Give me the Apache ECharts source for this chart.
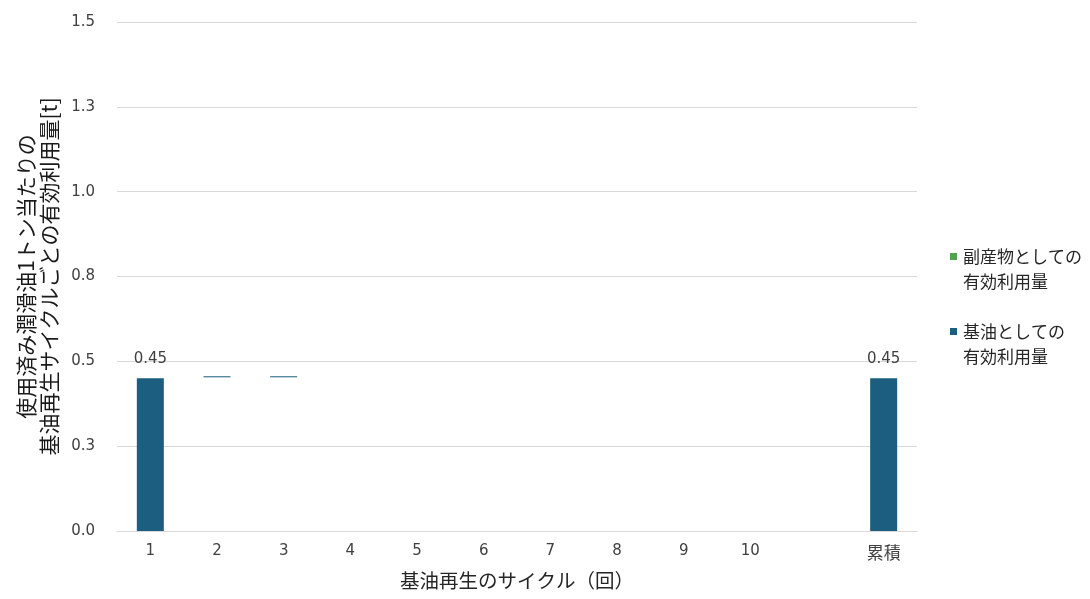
<!DOCTYPE html>
<html lang="ja">
<head>
<meta charset="utf-8">
<title>基油再生サイクルごとの有効利用量</title>
<script src="https://cdn.jsdelivr.net/npm/echarts@6/dist/echarts.min.js"></script>
<style>
  html, body { margin: 0; padding: 0; background: #ffffff; }
  #chart { width: 1090px; height: 599px; }
</style>
</head>
<body>
<div id="chart"></div>
<script>
// Regeneration cycles (the blank slot separates the cumulative bar)
const cycles = ['1', '2', '3', '4', '5', '6', '7', '8', '9', '10', '', '累積'];
// Invisible offset so small increments sit on top of the running total
const offset = [0, 0.453, 0.453, 0, 0, 0, 0, 0, 0, 0, null, 0];
// Effective use as base oil [t per t of used lubricant]
const baseOil = [0.45, 0.003, 0.003, 0, 0, 0, 0, 0, 0, 0, null, 0.45];
// Effective use as by-product [t per t of used lubricant]
const byProduct = [0, 0, 0, 0, 0, 0, 0, 0, 0, 0, null, 0];
// Value axis ticks
const yMin = 0, yMax = 1.5, yStep = 0.25;

const seriesNames = ['副産物としての\n有効利用量', '基油としての\n有効利用量'];
const JP = '"Noto Sans CJK JP", "DejaVu Sans", sans-serif';
const NUM = '"DejaVu Sans", "Liberation Sans", sans-serif';

const chart = echarts.init(document.getElementById('chart'), null, { renderer: 'canvas' });

chart.setOption({
  backgroundColor: '#ffffff',
  animation: false,
  grid: { left: 117, right: 173, top: 22, bottom: 68, containLabel: false },
  legend: {
    orient: 'vertical',
    left: 945,
    top: 239,
    itemGap: 25,
    itemWidth: 7,
    itemHeight: 32,
    data: seriesNames.map(function (n) {
      return { name: n, icon: 'path://M0,0h7v7h-7z M0,31.99h0.01v0.01h-0.01z' };
    }),
    textStyle: { fontFamily: JP, fontSize: 17, color: '#262626', lineHeight: 25, padding: [0, 0, 0, 1] }
  },
  xAxis: {
    type: 'category',
    data: cycles,
    name: '基油再生のサイクル（回）',
    nameLocation: 'middle',
    nameGap: 40,
    nameTextStyle: { fontFamily: JP, fontSize: 19.5, color: '#262626' },
    axisLine: { show: true, lineStyle: { color: '#d9d9d9', width: 1 } },
    axisTick: { show: false },
    axisLabel: {
      interval: 0,
      fontFamily: NUM, fontSize: 15, color: '#404040', margin: 13,
      formatter: function (v) { return /^\d+$/.test(v) ? v : '{jp|' + v + '}'; },
      rich: { jp: { fontFamily: JP, fontSize: 17, color: '#404040' } }
    }
  },
  yAxis: {
    type: 'value',
    min: yMin,
    max: yMax,
    interval: yStep,
    name: '使用済み潤滑油1トン当たりの\n基油再生サイクルごとの有効利用量[t]',
    nameLocation: 'middle',
    nameRotate: 90,
    nameGap: 52,
    nameTextStyle: { fontFamily: JP, fontSize: 21, color: '#1a1a1a', lineHeight: 23 },
    axisLine: { show: false },
    axisTick: { show: false },
    splitLine: { lineStyle: { color: '#d9d9d9', width: 1 } },
    axisLabel: {
      fontFamily: NUM, fontSize: 15, color: '#404040', margin: 22,
      formatter: function (v) { return v.toFixed(1); }
    }
  },
  series: [
    {
      name: 'offset',
      type: 'bar',
      stack: 'total',
      data: offset,
      barWidth: 27,
      itemStyle: { color: 'rgba(0,0,0,0)' },
      emphasis: { disabled: true },
      silent: true
    },
    {
      name: seriesNames[1],
      type: 'bar',
      stack: 'total',
      data: baseOil,
      barWidth: 27,
      itemStyle: { color: '#1b5e7f' },
      label: {
        show: true,
        position: 'top',
        distance: 12,
        fontFamily: NUM,
        fontSize: 15,
        color: '#404040',
        formatter: function (p) { return p.value >= 0.01 ? p.value.toFixed(2) : ''; }
      }
    },
    {
      name: seriesNames[0],
      type: 'bar',
      stack: 'total',
      data: byProduct,
      barWidth: 27,
      itemStyle: { color: '#4ea64a' }
    }
  ]
});
</script>
</body>
</html>
